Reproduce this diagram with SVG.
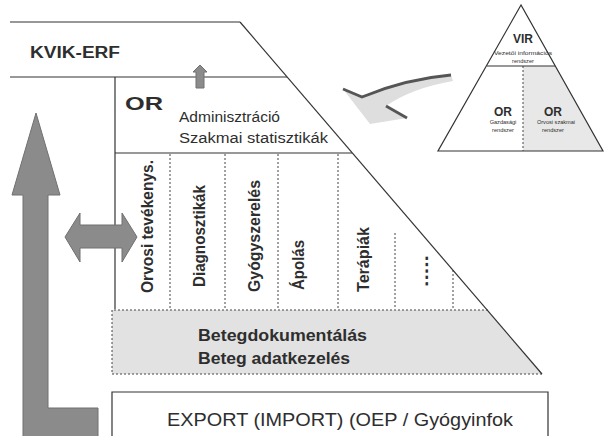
<svg xmlns="http://www.w3.org/2000/svg" width="604" height="436" viewBox="0 0 604 436">
<style>
.t{font-family:"Liberation Sans",Arial,sans-serif;fill:#2e2e2e}
.b{font-weight:bold}
.ln{stroke:#333;stroke-width:1.2;fill:none}
.dash{stroke:#444;stroke-width:1;stroke-dasharray:2 2;fill:none}
.arr{fill:#8b8b8b;stroke:#707070;stroke-width:1}
.sm{font-size:5.6px;text-anchor:middle}
.orp{font-size:12px;font-weight:bold;text-anchor:middle}
</style>
<rect width="604" height="436" fill="#fff"/>

<g id="kvik-erf">
  <line class="ln" x1="10" y1="22" x2="240" y2="22"/>
  <line class="ln" x1="10" y1="77" x2="287" y2="77"/>
  <text class="t b" x="30" y="58" font-size="16" textLength="90" lengthAdjust="spacingAndGlyphs">KVIK-ERF</text>
</g>

<g id="or-box">
  <line class="ln" x1="115" y1="77" x2="115" y2="309"/>
  <line class="ln" x1="115" y1="153" x2="352" y2="153"/>
  <text class="t b" x="125" y="110" font-size="18.5" textLength="38" lengthAdjust="spacingAndGlyphs">OR</text>
  <text class="t" x="179" y="121.5" font-size="14" textLength="101" lengthAdjust="spacingAndGlyphs">Adminisztráció</text>
  <text class="t" x="179" y="143" font-size="14" textLength="149" lengthAdjust="spacingAndGlyphs">Szakmai statisztikák</text>
</g>

<g id="columns">
  <line class="dash" x1="170" y1="154" x2="170" y2="309"/>
  <line class="dash" x1="225" y1="154" x2="225" y2="309"/>
  <line class="dash" x1="278" y1="154" x2="278" y2="309"/>
  <line class="dash" x1="338" y1="154" x2="338" y2="309"/>
  <line class="dash" x1="395" y1="233" x2="395" y2="309"/>
  <line class="dash" x1="453" y1="270" x2="453" y2="309"/>
  <text class="t b" font-size="16" transform="translate(153,293) rotate(-90)" textLength="133" lengthAdjust="spacingAndGlyphs">Orvosi tevékenys.</text>
  <text class="t b" font-size="16" transform="translate(204.5,287) rotate(-90)" textLength="102" lengthAdjust="spacingAndGlyphs">Diagnosztikák</text>
  <text class="t b" font-size="16" transform="translate(260,292) rotate(-90)" textLength="112" lengthAdjust="spacingAndGlyphs">Gyógyszerelés</text>
  <text class="t b" font-size="16" transform="translate(304,290) rotate(-90)" textLength="50" lengthAdjust="spacingAndGlyphs">Ápolás</text>
  <text class="t b" font-size="16" transform="translate(369,292) rotate(-90)" textLength="65" lengthAdjust="spacingAndGlyphs">Terápiák</text>
  <text class="t b" font-size="16" transform="translate(428,287) rotate(-90)" textLength="32" lengthAdjust="spacingAndGlyphs">.....</text>
</g>

<g id="beteg">
  <polygon points="112,310 488,310 542,374 112,374" fill="#e2e2e2"/>
  <polyline class="dash" points="488,310 112,310 112,374 542,374" stroke-dasharray="3 1.5" stroke="#333"/>
  <text class="t b" x="198" y="340.5" font-size="16" textLength="169" lengthAdjust="spacingAndGlyphs">Betegdokumentálás</text>
  <text class="t b" x="198" y="363.5" font-size="16" textLength="152" lengthAdjust="spacingAndGlyphs">Beteg adatkezelés</text>
</g>

<g id="diagonal">
  <line class="ln" x1="240" y1="22" x2="542" y2="374"/>
</g>

<g id="export">
  <polyline class="ln" points="112,440 112,392 548,392 548,440"/>
  <text class="t" x="167" y="425.5" font-size="19" textLength="346" lengthAdjust="spacingAndGlyphs">EXPORT (IMPORT) (OEP / Gyógyinfok</text>
</g>

<g id="pyramid">
  <polygon points="523,66 555,66 603,151 523,151" fill="#e8e8e8"/>
  <polygon class="ln" points="521,5 438,151 603,151"/>
  <line class="ln" x1="487" y1="66" x2="555" y2="66"/>
  <line class="dash" x1="523" y1="66" x2="523" y2="151"/>
  <text class="t b" x="523" y="43" font-size="12" text-anchor="middle">VIR</text>
  <text class="t sm" x="523" y="55" textLength="58" lengthAdjust="spacingAndGlyphs">Vezetői információs</text>
  <text class="t sm" x="523" y="63">rendszer</text>
  <text class="t orp" x="503" y="116">OR</text>
  <text class="t sm" x="503" y="124">Gazdasági</text>
  <text class="t sm" x="503" y="132">rendszer</text>
  <text class="t orp" x="553" y="116">OR</text>
  <text class="t sm" x="556" y="124">Orvosi szakmai</text>
  <text class="t sm" x="553" y="132">rendszer</text>
</g>

<g id="connectors">
  <polygon class="arr" points="36,113 60,195 48,195 48,408 98,408 98,440 23,440 23,195 12,195"/>
  <polygon class="arr" points="65,237 80,213 80,225 122,225 122,213 137,237 122,262 122,248 80,248 80,262"/>
  <polygon class="arr" points="200,65 207,72 204,72 204,88 196,88 196,72 193,72"/>
  <path d="M451,75 Q405,79 362,97 L343,89 L370,124 L407,118 L386,106 Q412,88 453,81 Z" fill="#dedede"/>
  <path d="M451,75 Q405,79 362,97 L343,89" fill="none" stroke="#555" stroke-width="2.8"/>
  <line x1="386" y1="106" x2="407" y2="118" stroke="#555" stroke-width="2.8"/>
</g>
</svg>
